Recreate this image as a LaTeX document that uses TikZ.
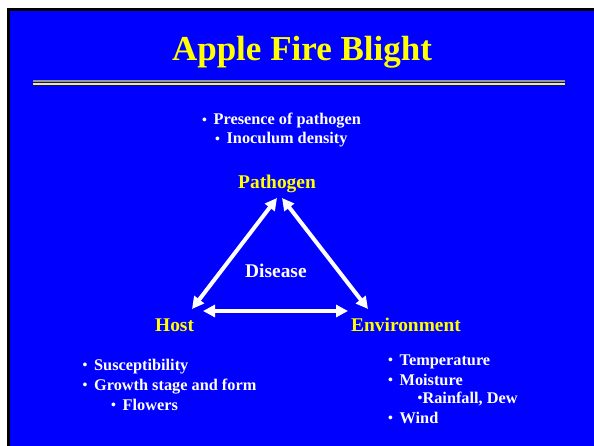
\documentclass[tikz,border=0pt]{standalone}
\usepackage{fontspec}
\usepackage{graphicx}
\setmainfont{Liberation Serif}
\usetikzlibrary{arrows.meta}
\definecolor{slideblue}{RGB}{0,0,255}
\definecolor{titleyellow}{RGB}{255,255,0}
\definecolor{rulegray}{RGB}{150,150,160}
% small round bullet used in the note lists
\newcommand{\notedot}{\raisebox{0.6pt}{\scalebox{0.85}{\textbullet}}}

\begin{document}
\begin{tikzpicture}[x=1pt,y=-1pt,
  item/.style={inner sep=0pt, anchor=base west, text=white,
    font=\fontsize{16.3}{19}\selectfont\bfseries},
  vertex/.style={inner sep=0pt, anchor=base west, text=titleyellow,
    font=\fontsize{19.4}{23}\selectfont\bfseries},
  link/.style={white, line width=4pt,
    {Triangle[length=12pt,width=12pt]}-{Triangle[length=12pt,width=12pt]}}]
\useasboundingbox (0,0) rectangle (594,446);

% slide background with its dark frame
\fill[white] (0,0) rectangle (594,446);
\fill[black] (7,8) rectangle (594,446);
\fill[slideblue] (10,11) rectangle (594,446);

% title and double rule
\node[inner sep=0pt, anchor=base, text=titleyellow,
  font=\fontsize{35}{40}\selectfont\bfseries] (title) at (302,60.5) {Apple Fire Blight};
\fill[rulegray] (33,80.5) rectangle (565,82.5);
\fill[titleyellow] (33,83) rectangle (565,85.5);

% pathogen notes
\node[item] (presence) at (202,125) {\notedot\hspace{6.6pt}Presence of pathogen};
\node[item] (inoculum) at (215,144) {\notedot\hspace{6.6pt}Inoculum density};

% triangle vertices
\node[vertex] (pathogen) at (238,189) {Pathogen};
\node[vertex] (host) at (155,331) {Host};
\node[vertex] (environment) at (351,331) {Environment};
\node[item, font=\fontsize{19.4}{23}\selectfont\bfseries] (disease) at (245,277) {Disease};

% arrow end points around the triangle
\coordinate (pathL) at (277,198);
\coordinate (pathR) at (282,198);
\coordinate (hostU) at (192,309);
\coordinate (hostR) at (203,311);
\coordinate (envU) at (368,309);
\coordinate (envL) at (348,311);

\draw[link] (hostU) -- (pathL);
\draw[link] (pathR) -- (envU);
\draw[link] (hostR) -- (envL);

% host notes
\node[item] (suscept) at (82.5,370) {\notedot\hspace{6.6pt}Susceptibility};
\node[item] (growth) at (82.5,390) {\notedot\hspace{6.6pt}Growth stage and form};
\node[item] (flowers) at (111,410) {\notedot\hspace{6.6pt}Flowers};

% environment notes
\node[item] (temp) at (388,365.5) {\notedot\hspace{6.6pt}Temperature};
\node[item] (moist) at (388,385.5) {\notedot\hspace{6.6pt}Moisture};
\node[item] (rain) at (417.5,403.5) {\notedot Rainfall, Dew};
\node[item] (wind) at (388,423.5) {\notedot\hspace{6.6pt}Wind};
\end{tikzpicture}
\end{document}
